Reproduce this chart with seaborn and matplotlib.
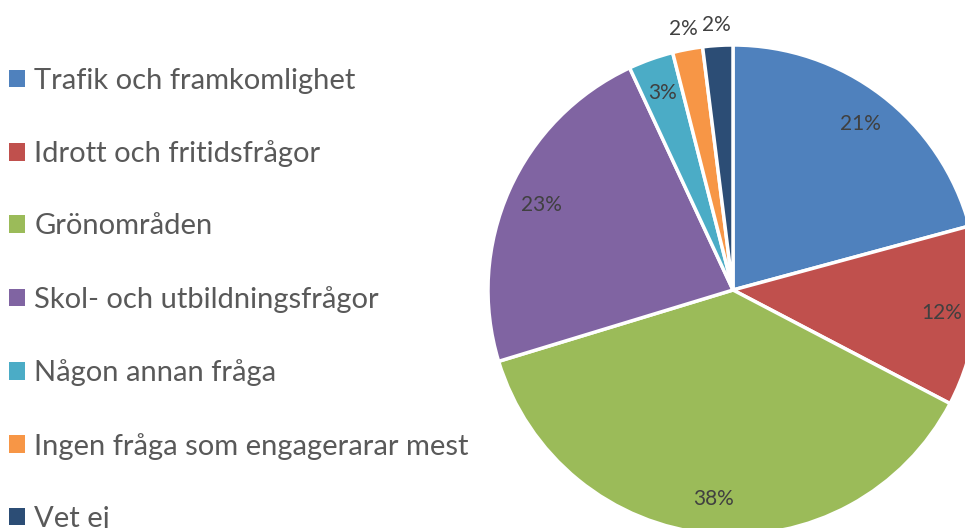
import matplotlib
matplotlib.use("Agg")
import matplotlib.pyplot as plt
import seaborn as sns
import numpy as np

# data
categories = ["Trafik och framkomlighet", "Idrott och fritidsfrågor", "Grönområden",
              "Skol- och utbildningsfrågor", "Någon annan fråga",
              "Ingen fråga som engagerarar mest", "Vet ej"]
shares = [21, 12, 38, 23, 3, 2, 2]
colors = ["#4F81BD", "#C0504D", "#9BBB59", "#8064A2", "#4BACC6", "#F79646", "#2C4D75"]

sns.set_theme(style="white")
plt.rcParams["font.family"] = ["Lato", "DejaVu Sans"]

W, H = 965, 528
cx, cy, r = 733, 290, 245   # pie centre / radius in pixels

fig = plt.figure(figsize=(W / 100, H / 100), dpi=100)
ax = fig.add_axes([0, 0, 1, 1])

palette = sns.color_palette(colors)
wedges, texts = ax.pie(shares, colors=palette, startangle=90, counterclock=False,
                       radius=1, wedgeprops=dict(edgecolor="white", linewidth=2.5),
                       frame=False)

# percentage labels: inside for big slices, outside for the tiny ones
for w, v in zip(wedges, shares):
    ang = np.deg2rad((w.theta1 + w.theta2) / 2)
    d = 1.085 if v <= 2 else 0.855
    ax.text(d * np.cos(ang), d * np.sin(ang), f"{v}%", ha="center", va="center",
            fontsize=15, color="#404040")

ax.set_xlim((0 - cx) / r, (W - cx) / r)
ax.set_ylim((cy - H) / r, cy / r)
ax.set_aspect("auto")
ax.axis("off")

leg = ax.legend(wedges, categories, loc="upper left",
                bbox_to_anchor=(0.0, 1 - 59 / H), bbox_transform=fig.transFigure,
                frameon=False, fontsize=21, handlelength=0.55, handleheight=0.55,
                handletextpad=0.32, labelspacing=1.59, borderaxespad=0, borderpad=0.3)
for t in leg.get_texts():
    t.set_color("#595959")
for h in leg.legend_handles:
    h.set_edgecolor("none")

fig.savefig("out.png", dpi=100)
